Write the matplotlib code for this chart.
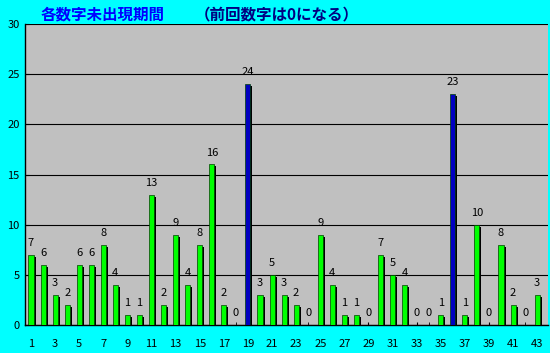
import matplotlib
matplotlib.use('Agg')
import matplotlib.pyplot as plt
import matplotlib.transforms as mtransforms

plt.rcParams['font.family'] = ['Noto Sans CJK JP', 'DejaVu Sans']

numbers = list(range(1, 44))
values = [7, 6, 3, 2, 6, 6, 8, 4, 1, 1, 13, 2, 9, 4, 8, 16, 2, 0, 24, 3, 5, 3,
          2, 0, 9, 4, 1, 1, 0, 7, 5, 4, 0, 0, 1, 23, 1, 10, 0, 8, 2, 0, 3]
previous = [19, 36]  # numbers drawn last time (blue)
title_main = '各数字未出現期間'
title_sub = '（前回数字は0になる）'

fig = plt.figure(figsize=(5.5, 3.53), dpi=100, facecolor='#00FFFF')
ax = fig.add_axes([25/550, 1-325/353, 523/550, 301/353])
ax.set_facecolor('#C0C0C0')

colors = ['#0000C0' if n in previous else '#00FF00' for n in numbers]
shadow = ax.transData + mtransforms.ScaledTranslation(2/100, -2/100, fig.dpi_scale_trans)
ax.bar(numbers, values, width=0.42, color='black', transform=shadow, zorder=2)
ax.bar(numbers, values, width=0.42, color=colors, edgecolor='#004000',
       linewidth=0.5, zorder=3)

for n, v in zip(numbers, values):
    ax.annotate(str(v), (n, v), xytext=(0, 5), textcoords='offset points',
                ha='center', va='bottom', fontsize=8, zorder=4)

ax.set_xlim(0.5, 43.9)
ax.set_ylim(0, 30)
ax.set_yticks(range(0, 31, 5))
ax.yaxis.grid(True, color='black', linewidth=0.8)
ax.set_axisbelow(True)
ax.set_xticks(range(1, 44, 2))
ax.set_xticks(range(1, 44), minor=True)
ax.tick_params(axis='x', which='both', direction='in', length=2, labelsize=8, pad=10)
ax.tick_params(axis='y', direction='in', length=3, labelsize=8, pad=4)
for s in ['top', 'right']:
    ax.spines[s].set_visible(False)
ax.spines['left'].set_linewidth(1)
ax.spines['bottom'].set_linewidth(1)

fig.text(41/550, 1-14/353, title_main, color='#0000FF', fontsize=11.2,
         fontweight='bold', va='center')
fig.text(195/550, 1-14/353, title_sub, color='#000080', fontsize=11.2,
         fontweight='bold', va='center')

fig.savefig('out.png', dpi=100, facecolor=fig.get_facecolor())
